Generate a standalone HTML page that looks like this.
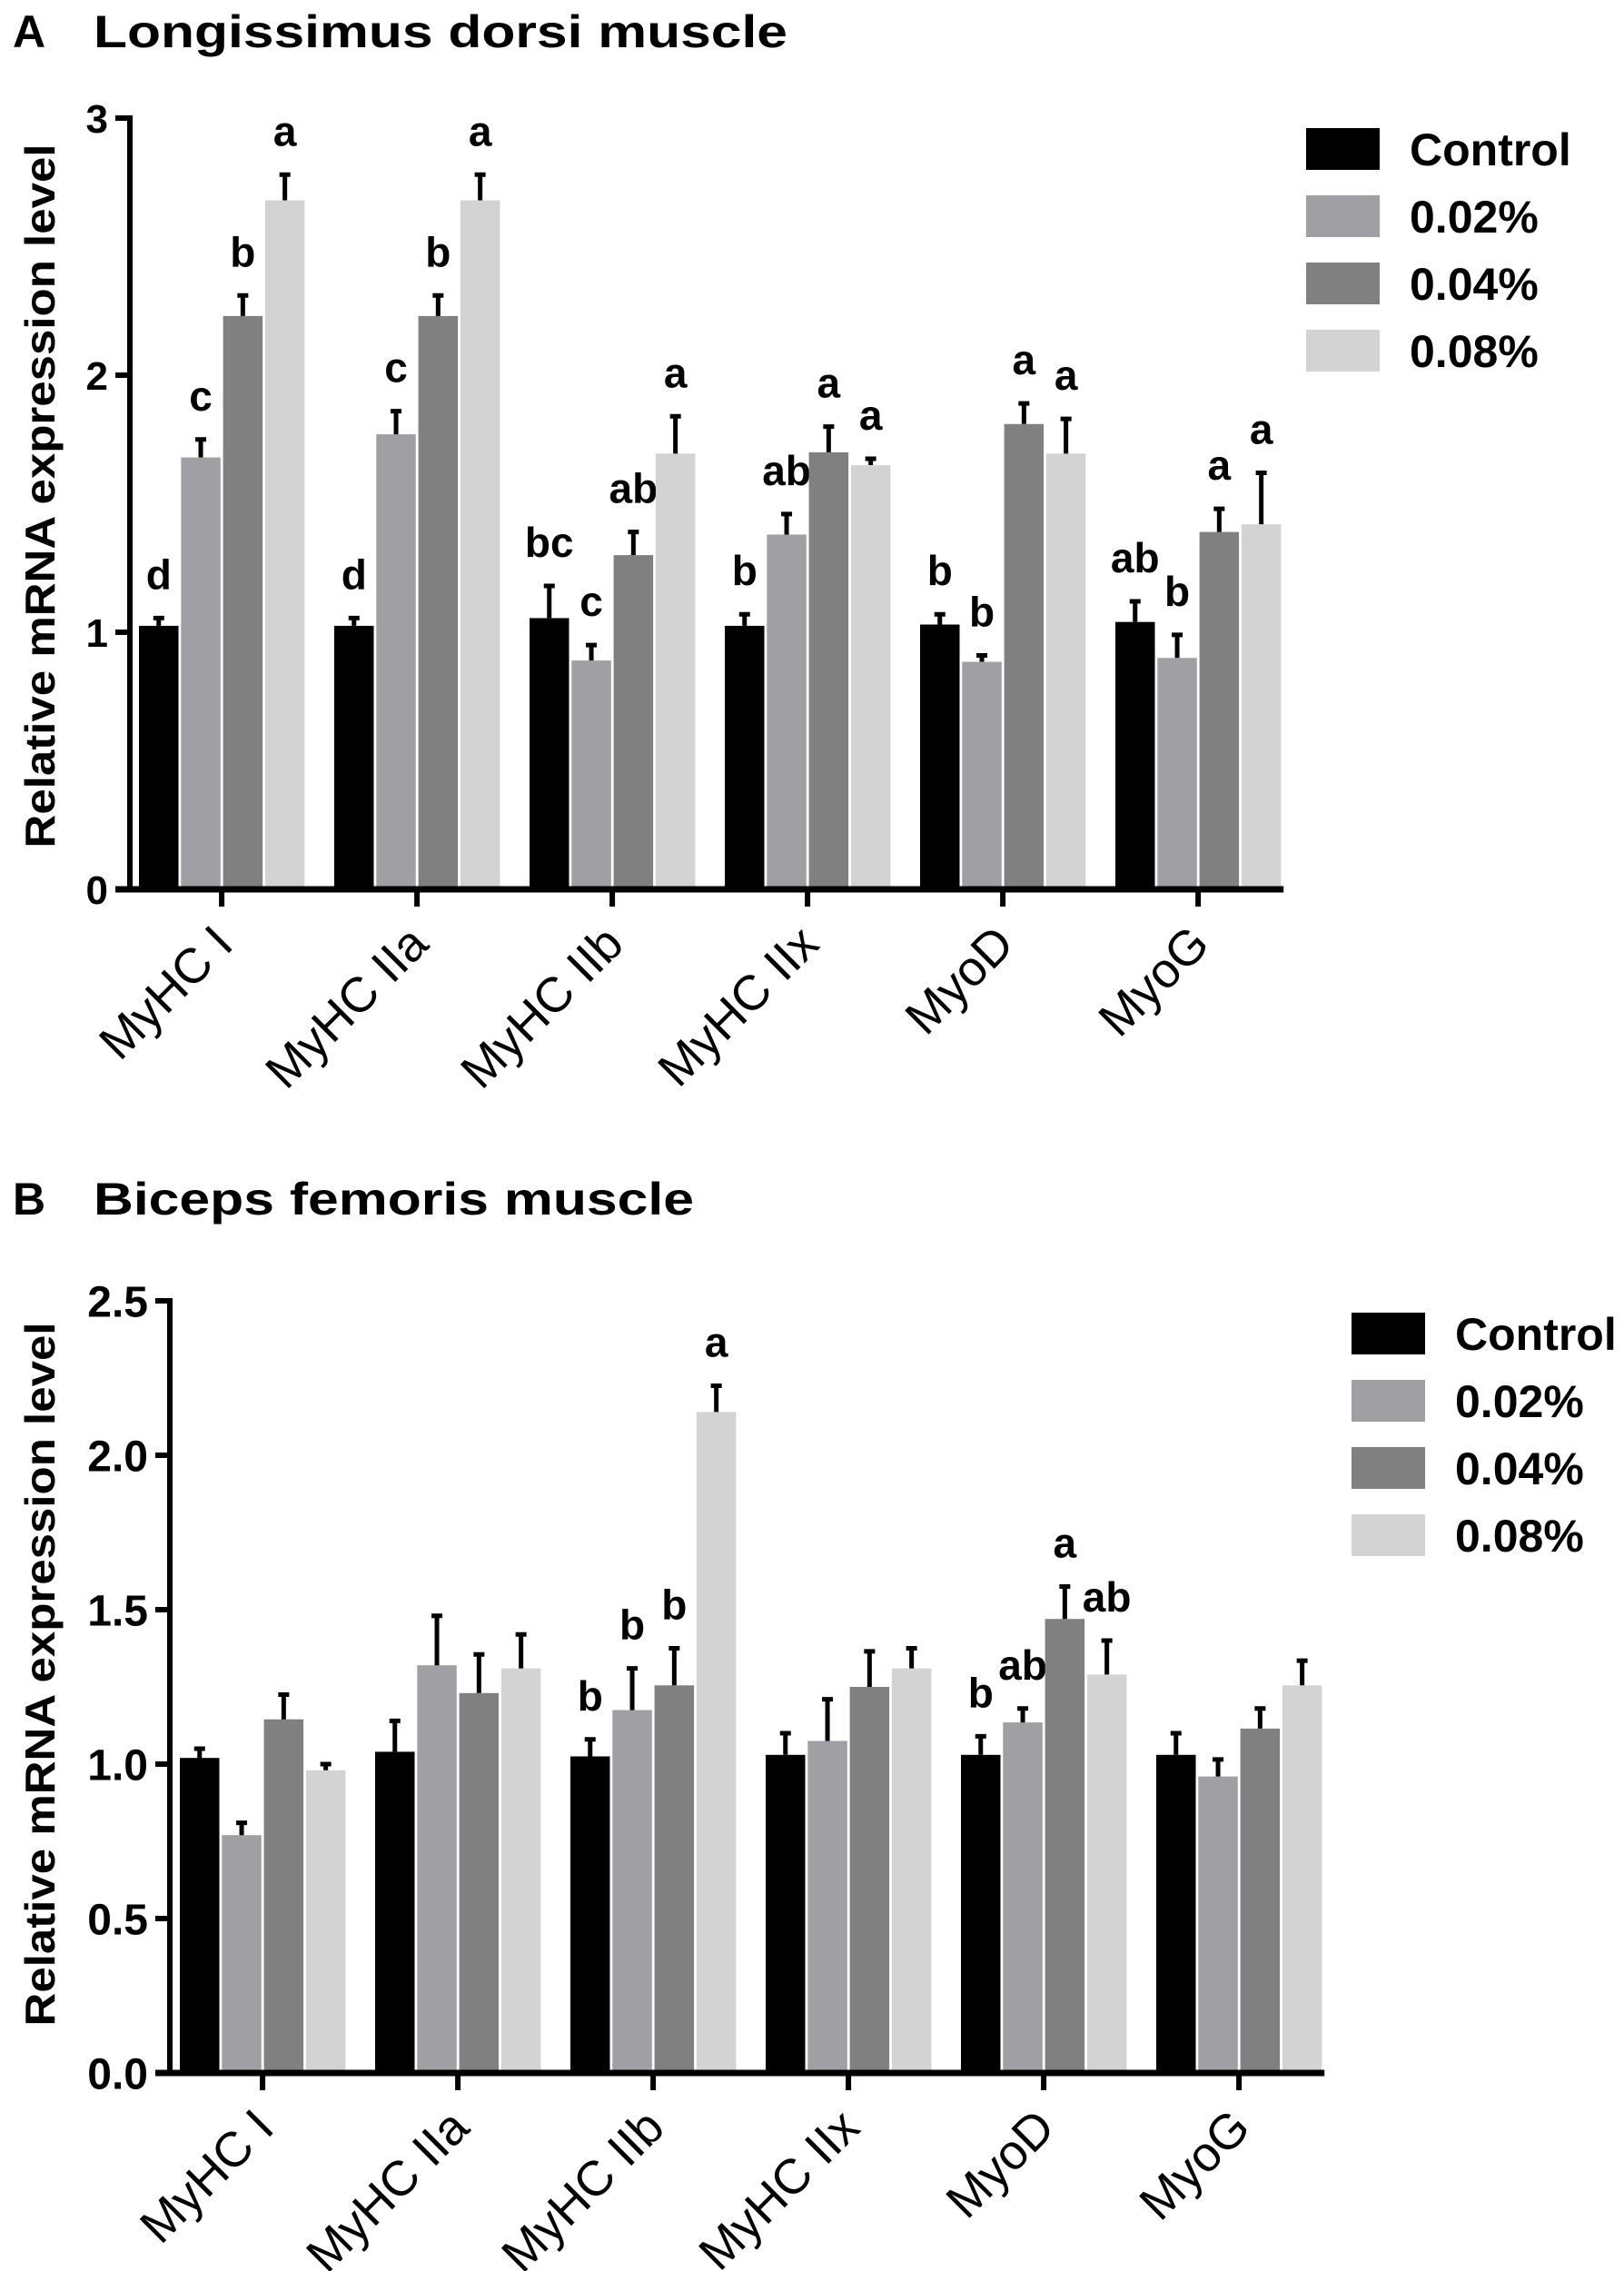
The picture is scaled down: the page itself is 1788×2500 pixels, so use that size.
<!DOCTYPE html>
<html><head><meta charset="utf-8"><style>
html,body{margin:0;padding:0;background:#fff;}
svg{display:block;font-family:"Liberation Sans",Arial,sans-serif;}
</style></head><body>
<svg id="fig" width="1788" height="2500" viewBox="0 0 1788 2500" xmlns="http://www.w3.org/2000/svg">
<text x="14" y="52" font-size="50" font-weight="bold">A</text>
<text x="103" y="52" font-size="50" font-weight="bold" textLength="764" lengthAdjust="spacingAndGlyphs">Longissimus dorsi muscle</text>
<text x="14" y="1337" font-size="50" font-weight="bold">B</text>
<text x="103" y="1337" font-size="50" font-weight="bold" textLength="661" lengthAdjust="spacingAndGlyphs">Biceps femoris muscle</text>
<g id="chartA"></g>
<g id="chartB"></g>
</svg>
<script>
const categories = ["MyHC I","MyHC IIa","MyHC IIb","MyHC IIx","MyoD","MyoG"];
const seriesNames = ["Control","0.02%","0.04%","0.08%"];
// Panel A
const aControl = [1.025,1.025,1.055,1.025,1.03,1.04];
const a002 = [1.68,1.77,0.89,1.38,0.885,0.90];
const a004 = [2.23,2.23,1.30,1.70,1.81,1.39];
const a008 = [2.68,2.68,1.695,1.65,1.695,1.42];
const aErrControl = [0.03,0.03,0.125,0.045,0.04,0.08];
const aErr002 = [0.07,0.09,0.06,0.08,0.025,0.09];
const aErr004 = [0.08,0.08,0.09,0.10,0.08,0.09];
const aErr008 = [0.10,0.10,0.145,0.025,0.135,0.20];
const aLetControl = ["d","d","bc","b","b","ab"];
const aLet002 = ["c","c","c","ab","b","b"];
const aLet004 = ["b","b","ab","a","a","a"];
const aLet008 = ["a","a","a","a","a","a"];
const aTicks = [0,1,2,3];
const aTickLabels = ["0","1","2","3"];
// Panel B
const bControl = [1.02,1.04,1.025,1.03,1.03,1.03];
const b002 = [0.77,1.32,1.175,1.075,1.135,0.96];
const b004 = [1.145,1.23,1.255,1.25,1.47,1.115];
const b008 = [0.98,1.31,2.14,1.31,1.29,1.255];
const bErrControl = [0.03,0.10,0.055,0.07,0.06,0.07];
const bErr002 = [0.04,0.16,0.135,0.135,0.045,0.055];
const bErr004 = [0.08,0.125,0.12,0.115,0.105,0.065];
const bErr008 = [0.02,0.11,0.085,0.065,0.11,0.08];
const bLetControl = ["","","b","","b",""];
const bLet002 = ["","","b","","ab",""];
const bLet004 = ["","","b","","a",""];
const bLet008 = ["","","a","","ab",""];
const bTicks = [0,0.5,1,1.5,2,2.5];
const bTickLabels = ["0.0","0.5","1.0","1.5","2.0","2.5"];

const colors = ["#000000","#a0a0a4","#808080","#d3d3d3"];
const NS = "http://www.w3.org/2000/svg";
function mk(parent, tag, attrs, txt){
  const e = document.createElementNS(NS, tag);
  for (const k in attrs) e.setAttribute(k, attrs[k]);
  if (txt !== undefined) e.textContent = txt;
  parent.appendChild(e);
  return e;
}
function drawChart(g, cfg){
  const y = v => cfg.zeroY - v*cfg.unit;
  const x0 = cfg.x0, pitch = 215, bp = 46.3, bw = 43.5;
  // y title
  const yt = mk(g,"text",{x:0,y:0,"font-size":46,"font-weight":"bold","text-anchor":"middle",
    transform:"translate("+cfg.ytX+","+cfg.ytY+") rotate(-90)",textLength:cfg.ytLen,lengthAdjust:"spacingAndGlyphs"},"Relative mRNA expression level");
  
  
  // bars
  for (let s=0;s<4;s++){
    for (let c=0;c<categories.length;c++){
      const v = cfg.vals[s][c], e = cfg.errs[s][c];
      const bx = x0 + c*pitch + s*bp;
      const r = mk(g,"rect",{x:bx,y:y(v),width:bw,height:cfg.zeroY-y(v),fill:colors[s]});
      
      
      const cx = bx + bw/2;
      const el = mk(g,"path",{d:"M"+cx+","+y(v)+"V"+y(v+e)+"M"+(cx-6)+","+y(v+e)+"H"+(cx+6),stroke:"#000","stroke-width":5,fill:"none"});
      
      
      const L = cfg.lets[s][c];
      if (L){
        const t = mk(g,"text",{x:cx,y:y(v+e)-32,"font-size":46,"font-weight":"bold","text-anchor":"middle"},L);
        
        
      }
    }
  }
  // axes
  const ax = cfg.axisX;
  const yl = mk(g,"line",{x1:ax,y1:y(cfg.ticks[cfg.ticks.length-1])-3,x2:ax,y2:cfg.zeroY+3,stroke:"#000","stroke-width":6});
  
  
  const xl = mk(g,"line",{x1:ax-16,y1:cfg.zeroY,x2:x0+5*pitch+4*bp,y2:cfg.zeroY,stroke:"#000","stroke-width":7});
  
  
  cfg.ticks.forEach((t,i)=>{
    const tk = mk(g,"line",{x1:ax-16,y1:y(t),x2:ax,y2:y(t),stroke:"#000","stroke-width":6});
    
    
    const tl = mk(g,"text",{x:ax-24,y:y(t)+cfg.tickFont*0.36,"font-size":cfg.tickFont,"font-weight":"bold","text-anchor":"end"},cfg.tickLabels[i]);
    
    
  });
  categories.forEach((c,i)=>{
    const cx = x0 + i*pitch + 2*bp - 1.5;
    const tk = mk(g,"line",{x1:cx,y1:cfg.zeroY,x2:cx,y2:cfg.zeroY+19,stroke:"#000","stroke-width":6});
    
    
    const tl = mk(g,"text",{x:0,y:0,"font-size":54,"text-anchor":"end",transform:"translate("+(cx+15)+","+(cfg.zeroY+63)+") rotate(-45)"},c);
    
    
  });
  // legend
  seriesNames.forEach((n,i)=>{
    const ly = cfg.legY + i*74;
    const r = mk(g,"rect",{x:cfg.legX,y:ly,width:81,height:46,fill:colors[i]});
    
    
    const t = mk(g,"text",{x:cfg.legX+114,y:ly+41,"font-size":50,"font-weight":"bold"},n);
    
    
  });
}
drawChart(document.getElementById("chartA"),{zeroY:979,unit:283,x0:153,axisX:143,
  vals:[aControl,a002,a004,a008],errs:[aErrControl,aErr002,aErr004,aErr008],
  lets:[aLetControl,aLet002,aLet004,aLet008],ticks:aTicks,tickLabels:aTickLabels,tickFont:44,
  ytX:60,ytY:546,ytLen:775,legX:1438,legY:141});
drawChart(document.getElementById("chartB"),{zeroY:2282,unit:340,x0:198,axisX:187,
  vals:[bControl,b002,b004,b008],errs:[bErrControl,bErr002,bErr004,bErr008],
  lets:[bLetControl,bLet002,bLet004,bLet008],ticks:bTicks,tickLabels:bTickLabels,tickFont:48,
  ytX:60,ytY:1843,ytLen:775,legX:1488,legY:1445});
</script>
</body></html>
